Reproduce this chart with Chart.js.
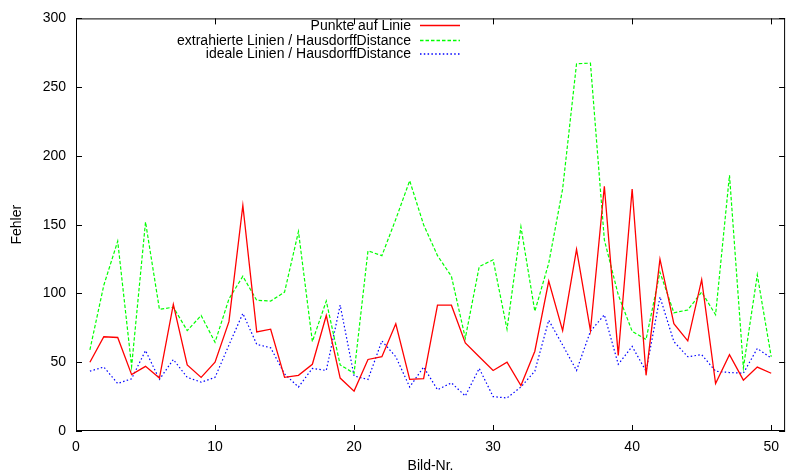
<!DOCTYPE html>
<html lang="de">
<head>
<meta charset="UTF-8">
<title>Fehler je Bild</title>
<script src="https://cdn.jsdelivr.net/npm/chart.js"></script>
<style>
  html, body { margin: 0; padding: 0; background: #fff; }
</style>
</head>
<body>
<canvas id="fehlerChart" width="787" height="476"></canvas>
<script>
// values (Bild-Nr. 1..50)
const bildNr = [1, 2, 3, 4, 5, 6, 7, 8, 9, 10, 11, 12, 13, 14, 15, 16, 17, 18, 19, 20,
  21, 22, 23, 24, 25, 26, 27, 28, 29, 30, 31, 32, 33, 34, 35, 36, 37, 38, 39, 40,
  41, 42, 43, 44, 45, 46, 47, 48, 49, 50];

const punkteAufLinie = [50, 68.5, 68, 41, 47, 38.5, 92, 48, 39, 50,
  79.5, 164, 72, 74, 39, 40.5, 48.5, 84, 38.5, 29,
  52, 54, 78, 37.5, 38, 91.5, 91.5, 64, 54, 44,
  50, 33, 58, 109, 73, 132, 73, 178, 55, 176,
  40.5, 125, 78, 65.5, 110, 34.5, 55.5, 37, 46.5, 42];

const extrahierteLinien = [59, 106, 138, 47, 152, 88.5, 90, 73, 84, 64.5,
  96, 112.5, 95, 94.5, 101, 145, 65, 94.5, 48, 42,
  131, 127.5, 154, 182, 150, 127.5, 112.5, 67.5, 119.5, 124.5,
  74, 148.5, 87, 122, 176, 267, 267.5, 139, 99, 72.5,
  66.5, 115.5, 86, 88, 101, 84.5, 186, 46, 113.5, 54];

const idealeLinien = [43.5, 46.5, 34.5, 38, 58.5, 37.5, 52, 39, 35.5, 39,
  62.5, 85.5, 63, 60.5, 41.5, 32, 45.5, 44, 91.5, 40,
  37.5, 65.5, 54, 32, 46.5, 30, 35, 25.5, 45.5, 25,
  24, 32, 43.5, 80.5, 62.5, 44, 72.5, 84.5, 48.5, 61.5,
  43.5, 97.5, 65, 54, 55.5, 43.5, 42.5, 42, 60, 53];

const seriesLabels = ['Punkte auf Linie', 'extrahierte Linien / HausdorffDistance', 'ideale Linien / HausdorffDistance'];
const seriesColors = ['#ff0000', '#00ff00', '#0000ff'];
const seriesDashes = [[], [3.5, 2], [1.5, 2.3]];
const xTicks = [0, 10, 20, 30, 40, 50];
const yTicks = [0, 50, 100, 150, 200, 250, 300];

const FONT = { family: '"Liberation Sans", Arial, sans-serif', size: 14 };

const toPoints = (vals) => vals.map((v, i) => ({ x: bildNr[i], y: v }));

// gnuplot-like box with inward ticks and the key at the top
const frameAndKey = {
  id: 'frameAndKey',
  afterDraw(chart) {
    const { ctx, chartArea: a, scales: { x, y } } = chart;
    ctx.save();
    ctx.strokeStyle = '#000';
    ctx.lineWidth = 1;
    ctx.setLineDash([]);
    ctx.strokeRect(a.left + 0.5, a.top + 0.5, a.right - a.left - 1, a.bottom - a.top - 1);
    const tl = 6;
    ctx.beginPath();
    xTicks.forEach((v) => {
      const px = Math.round(x.getPixelForValue(v)) + 0.5;
      ctx.moveTo(px, a.bottom); ctx.lineTo(px, a.bottom - tl);
      ctx.moveTo(px, a.top); ctx.lineTo(px, a.top + tl);
    });
    yTicks.forEach((v) => {
      const py = Math.round(y.getPixelForValue(v)) + 0.5;
      ctx.moveTo(a.left, py); ctx.lineTo(a.left + tl, py);
      ctx.moveTo(a.right, py); ctx.lineTo(a.right - tl, py);
    });
    ctx.stroke();

    // key
    const rows = [25.5, 40.5, 54];
    ctx.font = `${FONT.size}px ${FONT.family}`;
    ctx.textAlign = 'right';
    ctx.textBaseline = 'middle';
    seriesLabels.forEach((label, i) => {
      ctx.fillStyle = '#000';
      ctx.fillText(label, 411, rows[i] + 0.5);
      ctx.beginPath();
      ctx.strokeStyle = seriesColors[i];
      ctx.lineWidth = 1.5;
      ctx.setLineDash(seriesDashes[i]);
      ctx.moveTo(420, rows[i]);
      ctx.lineTo(460, rows[i]);
      ctx.stroke();
    });
    ctx.restore();
  }
};

new Chart(document.getElementById('fehlerChart'), {
  type: 'line',
  data: {
    datasets: [
      { label: seriesLabels[0], data: toPoints(punkteAufLinie), borderColor: seriesColors[0], borderWidth: 1.3, borderDash: seriesDashes[0] },
      { label: seriesLabels[1], data: toPoints(extrahierteLinien), borderColor: seriesColors[1], borderWidth: 1.2, borderDash: seriesDashes[1] },
      { label: seriesLabels[2], data: toPoints(idealeLinien), borderColor: seriesColors[2], borderWidth: 1.2, borderDash: seriesDashes[2] }
    ]
  },
  options: {
    responsive: false,
    animation: false,
    devicePixelRatio: 1,
    layout: { padding: { top: 14, right: 1, left: 0, bottom: 0 } },
    elements: { point: { radius: 0, hoverRadius: 0 }, line: { tension: 0 } },
    plugins: { legend: { display: false }, tooltip: { enabled: false } },
    scales: {
      x: {
        type: 'linear',
        min: 0,
        max: 51,
        afterBuildTicks: (s) => { s.ticks = xTicks.map((v) => ({ value: v })); },
        afterFit: (s) => { s.height = 45; },
        grid: { display: false, drawTicks: false },
        border: { display: false },
        ticks: { color: '#000', font: FONT, padding: 8, maxRotation: 0 },
        title: { display: true, text: 'Bild-Nr.', color: '#000', font: FONT, padding: { top: 0, bottom: 1 } }
      },
      y: {
        min: 0,
        max: 300,
        afterBuildTicks: (s) => { s.ticks = yTicks.map((v) => ({ value: v })); },
        afterFit: (s) => { s.width = 76; },
        grid: { display: false, drawTicks: false },
        border: { display: false },
        ticks: { color: '#000', font: FONT, padding: 10 },
        title: { display: true, text: 'Fehler', color: '#000', font: FONT, padding: { top: 9, bottom: 0 } }
      }
    }
  },
  plugins: [frameAndKey]
});
</script>
</body>
</html>
